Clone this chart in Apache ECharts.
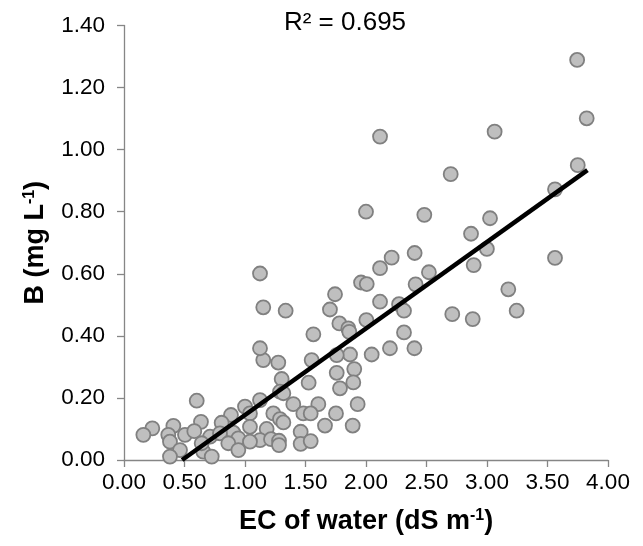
<!DOCTYPE html>
<html>
<head>
<meta charset="utf-8">
<script src="https://cdn.jsdelivr.net/npm/echarts@6/dist/echarts.min.js"></script>
<style>html,body{margin:0;padding:0;background:#fff}#c{width:643px;height:546px}</style>
</head>
<body>
<div id="c"></div>
<script>
// EC of water (dS m-1)
const ecValues = [
  3.745, 3.824, 3.75, 3.562, 3.562, 3.063, 2.70, 2.482, 2.116, 3.025,
  2.868, 2.999, 2.89, 2.402, 2.212, 2.116, 2.52, 2.41, 2.116, 2.273,
  2.314, 2.314, 3.176, 3.245, 2.713, 2.882, 1.959, 2.006, 1.744, 1.124,
  1.151, 1.336, 1.702, 1.78, 1.854, 1.862, 2.003, 2.198, 2.40, 1.565,
  2.047, 1.868, 1.758, 1.551, 1.151, 1.275, 1.124, 1.758, 1.903, 1.895,
  1.303, 1.526, 1.785, 1.289, 1.317, 1.124, 1.931, 1.606, 1.399, 1.482,
  1.543, 1.752, 1.234, 1.289, 1.317, 1.661, 1.89, 1.46, 1.179, 1.124,
  1.215, 1.281, 1.281, 1.46, 1.543, 2.0, 0.601, 1.0, 1.041, 0.884,
  0.636, 0.807, 0.408, 0.234, 0.16, 0.366, 0.504, 0.581, 1.041, 0.903,
  0.945, 0.711, 0.793, 0.862, 0.945, 1.041, 0.38, 0.463, 0.38, 0.655,
  0.725, 0.642
];
// B (mg L-1)
const bValues = [
  1.289, 1.101, 0.950, 0.872, 0.651, 1.058, 0.921, 0.790, 1.042, 0.779,
  0.729, 0.680, 0.628, 0.667, 0.652, 0.618, 0.605, 0.566, 0.510, 0.502,
  0.481, 0.411, 0.550, 0.481, 0.470, 0.454, 0.572, 0.567, 0.534, 0.601,
  0.492, 0.481, 0.485, 0.440, 0.424, 0.413, 0.451, 0.360, 0.360, 0.405,
  0.340, 0.340, 0.338, 0.322, 0.322, 0.314, 0.360, 0.281, 0.293, 0.250,
  0.261, 0.249, 0.231, 0.220, 0.215, 0.193, 0.180, 0.180, 0.180, 0.150,
  0.150, 0.150, 0.150, 0.132, 0.121, 0.111, 0.111, 0.091, 0.100, 0.064,
  0.067, 0.062, 0.048, 0.052, 0.061, 0.800, 0.191, 0.172, 0.150, 0.145,
  0.123, 0.120, 0.110, 0.102, 0.081, 0.081, 0.081, 0.093, 0.107, 0.088,
  0.070, 0.075, 0.086, 0.054, 0.032, 0.059, 0.059, 0.032, 0.011, 0.027,
  0.011, 0.054
];
// Linear trendline endpoints (as drawn)
const trendX = [0.48, 3.83];
const trendY = [0.0, 0.934];
const xTicks = [0, 0.5, 1, 1.5, 2, 2.5, 3, 3.5, 4];
const yTicks = [0, 0.2, 0.4, 0.6, 0.8, 1.0, 1.2, 1.4];
const r2Text = 'R² = 0.695';

const chart = echarts.init(document.getElementById('c'));
const axisCommon = {
  axisLine: {show: true, onZero: false, lineStyle: {color: '#868686', width: 1.3}},
  axisTick: {show: true, inside: false, length: 7, lineStyle: {color: '#868686', width: 1.3}},
  splitLine: {show: false},
};
const font = 'Liberation Sans, Arial, sans-serif';
const supStyle = {fontSize: 16, fontWeight: 'bold', fontFamily: font, color: '#000', verticalAlign: 'top', padding: [0, 0, 12, 0]};
chart.setOption({
  animation: false,
  backgroundColor: '#fff',
  grid: {left: 124, right: 35, top: 25.5, bottom: 86, containLabel: false},
  xAxis: Object.assign({
    type: 'value', min: xTicks[0], max: xTicks[xTicks.length - 1], interval: 0.5,
    axisLabel: {formatter: v => v.toFixed(2), color: '#000', fontSize: 22.5, fontFamily: font, margin: 11},
    name: 'EC of water (dS m{sup|-1})',
    nameLocation: 'middle', nameGap: 48,
    nameTextStyle: {color: '#000', fontSize: 27, fontWeight: 'bold', fontFamily: font, rich: {sup: supStyle}}
  }, axisCommon),
  yAxis: Object.assign({
    type: 'value', min: yTicks[0], max: yTicks[yTicks.length - 1], interval: 0.2,
    axisLabel: {formatter: v => v.toFixed(2), color: '#000', fontSize: 22.5, fontFamily: font, margin: 19},
    name: 'B (mg L{sup|-1})',
    nameLocation: 'middle', nameGap: 74, nameRotate: 90,
    nameTextStyle: {color: '#000', fontSize: 27, fontWeight: 'bold', fontFamily: font, rich: {sup: supStyle}}
  }, axisCommon),
  graphic: [{
    type: 'text', x: 345, y: 23,
    style: {text: r2Text, fill: '#000', font: '26px ' + font, textAlign: 'center', textVerticalAlign: 'middle'}
  }],
  series: [
    {
      type: 'scatter',
      data: ecValues.map((x, i) => [x, bValues[i]]),
      symbol: 'circle', symbolSize: 14,
      itemStyle: {color: '#BFBFBF', borderColor: '#808080', borderWidth: 1.8, opacity: 1},
      z: 2
    },
    {
      type: 'line',
      data: trendX.map((x, i) => [x, trendY[i]]),
      symbol: 'none',
      lineStyle: {color: '#000', width: 4.5},
      z: 3
    }
  ]
});
</script>
</body>
</html>
